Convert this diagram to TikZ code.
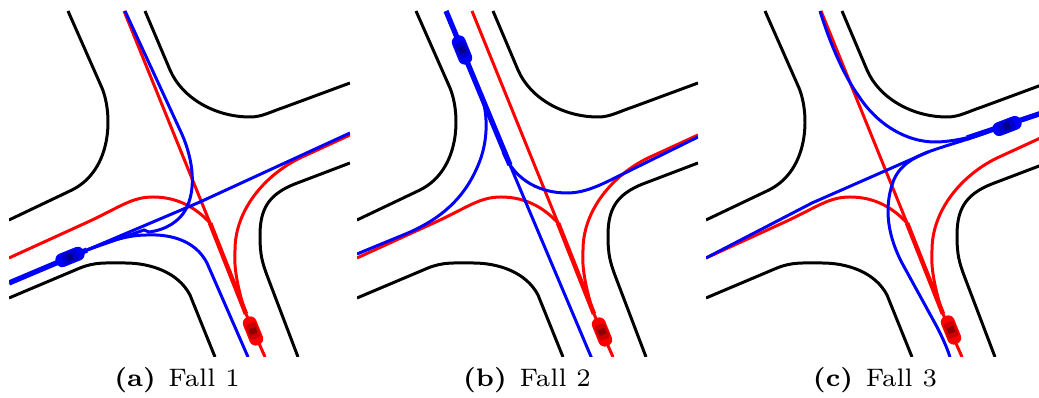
\documentclass[tikz,border=0pt]{standalone}
\usepackage{tikz}
\usetikzlibrary{positioning}

\tikzset{
  road/.style={draw=black, line width=0.85pt, line join=round},
  pathred/.style={draw=red, line width=0.85pt},
  pathblue/.style={draw=blue, line width=0.85pt},
  thickred/.style={draw=red, line width=1.3pt},
  thickblue/.style={draw=blue, line width=1.5pt},
  caption/.style={font=\fontsize{7.2}{9}\selectfont, inner sep=0pt}
}

\newcommand{\roads}{
  \draw[road] (68,11) -- (102,88) .. controls (113,115) and (112,170) .. (72,190) -- (9,220);
  \draw[road] (145,11) -- (170,70) .. controls (182,98) and (215,117) .. (250,117) .. controls (262,117) and (270,112) .. (285,107) -- (350,83);
  \draw[road] (350,163) -- (300,182) .. controls (272,192) and (260,205) .. (260,235) .. controls (260,255) and (262,262) .. (268,278) -- (298,357);
  \draw[road] (9,298) -- (80,268) .. controls (95,262) and (105,263) .. (125,263) .. controls (150,263) and (178,272) .. (190,295) -- (215,357);
}
\newcommand{\redpaths}{
  \draw[pathred] (124,11) -- (210,223);
  \draw[thickred] (210,223) -- (246,314);
  \draw[pathred] (246,314) -- (265,357);
  \draw[pathred] (9,258) -- (90,221) .. controls (120,207) and (132,197) .. (153,197) .. controls (180,197) and (198,210) .. (210,223);
  \draw[pathred] (243,305) .. controls (236,280) and (234,265) .. (235,250) .. controls (235,210) and (265,175) .. (300,158) -- (350,135);
}
% car seen from above, x y angle colour
\newcommand{\drawcar}[4]{
  \begin{scope}[shift={(#1,#2)}, rotate=#3]
    \fill[#4, rounded corners=1.8pt] (-15,-7) rectangle (15,7);
    \fill[#4!80!black, rounded corners=0.6pt] (-8,-5.5) rectangle (8,5.5);
    \fill[#4!55!black] (-3,-3.5) rectangle (3,3.5);
  \end{scope}
}

\begin{document}
\begin{tikzpicture}[x=0.01cm, y=-0.01cm]
  \useasboundingbox (0,0) rectangle (1039,398);

  % Fall 1
  \begin{scope}
    \clip (9,11) rectangle (350,357);
    \roads
    \redpaths
    \draw[thickblue] (9,283) -- (87,250);
    \draw[pathblue] (125,11) -- (180,130) .. controls (192,155) and (197,185) .. (187,207) .. controls (180,222) and (165,230) .. (149,232) -- (144,230) -- (87,250);
    \draw[pathblue] (350,133) -- (200,202) -- (87,250);
    \draw[pathblue] (248,357) -- (207,263) .. controls (195,240) and (170,234) .. (147,235) .. controls (125,235) and (105,243) .. (87,250);
    \drawcar{70}{257}{22}{blue}
    \drawcar{253}{331}{-68}{red}
  \end{scope}

  % Fall 2
  \begin{scope}[shift={(348,0)}]
    \clip (9,11) rectangle (350,357);
    \roads
    \redpaths
    \draw[thickblue] (98,11) -- (162,165);
    \draw[pathblue] (162,165) -- (244,359);
    \draw[pathblue] (135,100) .. controls (140,120) and (140,145) .. (128,170) .. controls (112,205) and (85,222) .. (60,233) -- (9,254);
    \draw[pathblue] (155,152) .. controls (168,183) and (195,193) .. (219,193) .. controls (240,193) and (258,182) .. (279,172) -- (350,137);
    \drawcar{114}{50}{-68}{blue}
    \drawcar{254}{332}{-68}{red}
  \end{scope}

  % Fall 3
  \begin{scope}[shift={(697,0)}]
    \clip (9,11) rectangle (342,357);
    \roads
    \redpaths
    \draw[thickblue] (270,138) -- (345,113);
    \draw[pathblue] (123,11) .. controls (135,50) and (150,80) .. (161,95) .. controls (180,125) and (210,142) .. (238,142) .. controls (255,142) and (275,137) .. (291,132);
    \draw[pathblue] (9,258) -- (115,203) -- (231,152) .. controls (250,145) and (270,140) .. (291,132);
    \draw[pathblue] (253,357) .. controls (249,345) and (245,337) .. (240,327) -- (205,263) .. controls (192,238) and (186,210) .. (196,182) .. controls (202,165) and (218,157) .. (231,152);
    \drawcar{310}{126}{21}{blue}
    \drawcar{254}{330}{-68}{red}
  \end{scope}

  \node[caption] (capa) at (177,380) {\textbf{(a)}\hspace{0.5em}Fall 1};
  \node[caption] (capb) at (527,380) {\textbf{(b)}\hspace{0.5em}Fall 2};
  \node[caption] (capc) at (875,380) {\textbf{(c)}\hspace{0.5em}Fall 3};
\end{tikzpicture}
\end{document}
